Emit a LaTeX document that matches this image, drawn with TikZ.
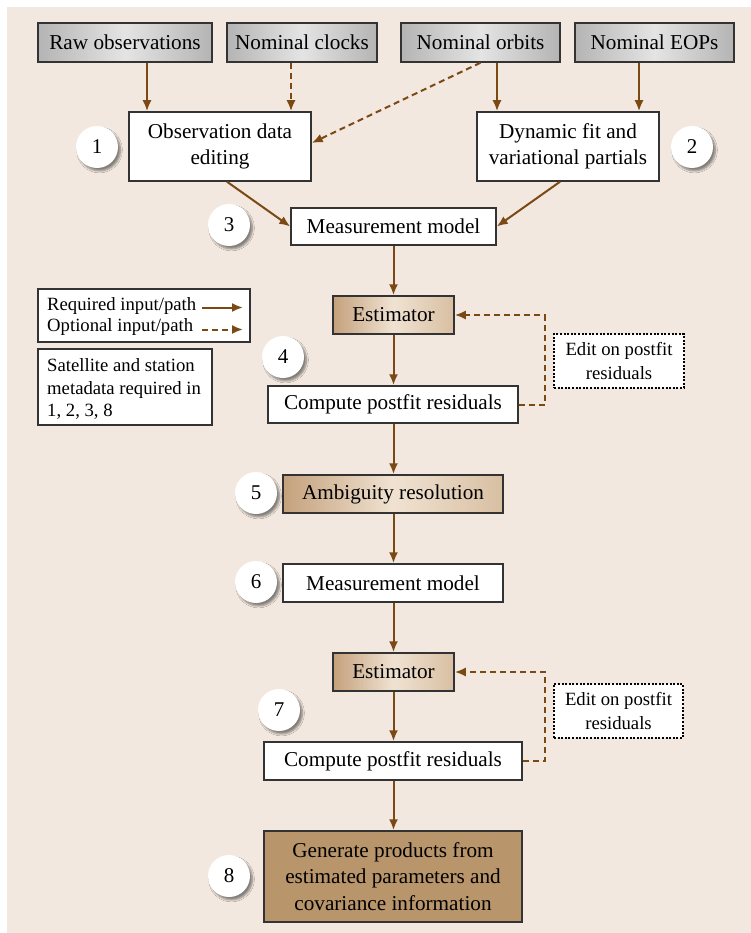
\documentclass[tikz,border=0pt]{standalone}
\usepackage{fontspec}
\setmainfont{Liberation Serif}
\usetikzlibrary{arrows.meta,shadows.blur,calc}
\definecolor{bgc}{HTML}{F2E8DF}
\definecolor{arr}{HTML}{7B4A14}
\definecolor{edgec}{HTML}{333333}
\definecolor{silverD}{HTML}{B4B4B4}
\definecolor{silverL}{HTML}{E4E4E4}
\definecolor{tanD}{HTML}{C4A17C}
\definecolor{tanL}{HTML}{F0E2D2}
\definecolor{tanM}{HTML}{D8BFA2}
\definecolor{genc}{HTML}{B8956A}
\tikzset{
  box/.style={draw=edgec, line width=1.5pt, fill=white, inner sep=0pt, align=center,
    font=\fontsize{21.2}{26.5}\selectfont},
  silverbox/.style={box, left color=silverD, right color=silverD, middle color=silverL, minimum height=39pt},
  tanbox/.style={box, left color=tanD, right color=tanM, middle color=tanL, minimum height=38pt},
  editbox/.style={draw=black, line width=1.2pt, dash pattern=on 2pt off 1.6pt, fill=white, inner sep=0pt,
    align=center, font=\fontsize{18.7}{24}\selectfont, minimum width=130pt, minimum height=54pt},
  legbox/.style={draw=edgec, line width=1.5pt, fill=white, inner sep=0pt},
  legtext/.style={inner sep=0pt, anchor=west, align=left, font=\fontsize{18.7}{22.5}\selectfont},
  numc/.style={circle, fill=white, minimum size=42pt, inner sep=0pt, font=\fontsize{21}{24}\selectfont,
    blur shadow={shadow xshift=2.5pt, shadow yshift=-3pt, shadow blur steps=6, shadow opacity=45}},
  req/.style={draw=arr, line width=2pt, -{Latex[length=11pt,width=9pt]}},
  opt/.style={draw=arr, line width=2pt, dash pattern=on 6pt off 4pt, -{Latex[length=11pt,width=9pt]}},
}
\begin{document}
\begin{tikzpicture}[x=1pt,y=-1pt]
\useasboundingbox (0,0) rectangle (751,933);
\fill[bgc] (7,7) rectangle (751,933);

% top inputs
\node[silverbox, minimum width=174pt] (raw) at (125,42.5) {Raw observations};
\node[silverbox, minimum width=150pt] (clk) at (302,42.5) {Nominal clocks};
\node[silverbox, minimum width=159pt] (orb) at (480.5,42.5) {Nominal orbits};
\node[silverbox, minimum width=159pt] (eop) at (654.5,42.5) {Nominal EOPs};

\node[box, minimum width=182pt, minimum height=69pt] (obs) at (220,146.5) {Observation data\\editing};
\node[box, minimum width=182pt, minimum height=69pt] (dyn) at (568,146.5) {Dynamic fit and\\variational partials};
\node[box, minimum width=205pt, minimum height=37pt] (mm1) at (393.5,226.5) {Measurement model};
\node[tanbox, minimum width=121pt] (est1) at (393.5,315) {Estimator};
\node[box, minimum width=250pt, minimum height=37pt] (cmp1) at (393,404.5) {Compute postfit residuals};
\node[editbox] (ed1) at (619,361) {Edit on postfit\\residuals};
\node[tanbox, minimum width=220pt] (amb) at (393,494) {Ambiguity resolution};
\node[box, minimum width=220pt, minimum height=38pt] (mm2) at (393,583) {Measurement model};
\node[tanbox, minimum width=121pt] (est2) at (393.5,672) {Estimator};
\node[box, minimum width=258pt, minimum height=38pt] (cmp2) at (393,761) {Compute postfit residuals};
\node[editbox, minimum width=129pt] (ed2) at (618.5,711) {Edit on postfit\\residuals};
\node[box, fill=genc, minimum width=258pt, minimum height=91pt] (gen) at (393,876.5) {Generate products from\\estimated parameters and\\covariance information};

% legend
\node[legbox, minimum width=212pt, minimum height=53pt] (leg1) at (144,315.5) {};
\node[legtext] (lt1) at (47,306) {Required input/path};
\node[legtext] (lt2) at (47,327) {Optional input/path};
\coordinate (la1) at (202,307.5);
\coordinate (lb1) at (243,307.5);
\coordinate (la2) at (202,329.5);
\coordinate (lb2) at (243,329.5);
\draw[req] (la1) -- (lb1);
\draw[opt] (la2) -- (lb2);
\node[legbox, minimum width=174pt, minimum height=76pt] (leg2) at (125,387) {};
\node[legtext] (lt3) at (47,389) {Satellite and station\\metadata required in\\1, 2, 3, 8};

% numbers
\node[numc] (n1) at (97,147) {1};
\node[numc] (n2) at (692,147) {2};
\node[numc] (n3) at (229,225) {3};
\node[numc] (n4) at (283,357) {4};
\node[numc] (n5) at (256,493) {5};
\node[numc] (n6) at (256,582) {6};
\node[numc] (n7) at (279,710) {7};
\node[numc] (n8) at (229,876) {8};

% connectors
\coordinate (x147) at (147,0);
\coordinate (x291) at (291,0);
\coordinate (x497) at (497,0);
\coordinate (x639) at (639,0);
\draw[req] (raw.south -| x147) -- (obs.north -| x147);
\draw[opt] (clk.south -| x291) -- (obs.north -| x291);
\draw[req] (orb.south -| x497) -- (dyn.north -| x497);
\draw[req] (eop.south -| x639) -- (dyn.north -| x639);
\draw[opt] (orb.south) -- ([yshift=3.5pt]obs.east);
\draw[req] ([xshift=7pt]obs.south) -- (mm1.west);
\draw[req] ([xshift=-8pt]dyn.south) -- (mm1.east);
\draw[req] (mm1.south -| est1) -- (est1.north);
\draw[req] (est1.south) -- (cmp1.north -| est1);
\draw[req] (cmp1.south -| est1) -- (amb.north -| est1);
\draw[req] (amb.south -| est1) -- (mm2.north -| est1);
\draw[req] (mm2.south -| est2) -- (est2.north);
\draw[req] (est2.south) -- (cmp2.north -| est2);
\draw[req] (cmp2.south -| est2) -- (gen.north -| est2);
\draw[opt] (cmp1.east) -- ++(26,0) |- (est1.east);
\draw[opt] (cmp2.east) -- ++(22,0) |- (est2.east);
\end{tikzpicture}
\end{document}
